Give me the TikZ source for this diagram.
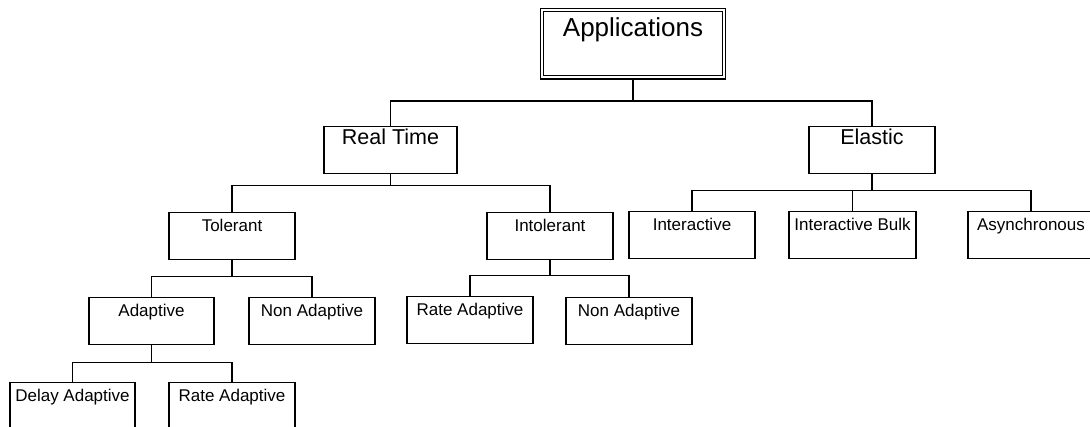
\documentclass[tikz,border=0pt]{standalone}
\usepackage{fontspec}
\setmainfont{Liberation Sans}
\begin{document}
\begin{tikzpicture}[x=1pt,y=-1pt,
  box/.style={draw, line width=1.5pt, inner sep=0pt, anchor=north,
    minimum width=126pt, text height=18.5pt, text depth=28.5pt,
    font=\fontsize{17}{20}\selectfont},
  midbox/.style={box, text height=18pt, text depth=29pt,
    font=\fontsize{21.5}{25}\selectfont},
  appbox/.style={draw, line width=1.2pt, double, double distance=2pt,
    inner sep=0pt, anchor=north, minimum width=181.6pt,
    text height=26.8pt, text depth=40.8pt,
    font=\fontsize{26}{30}\selectfont},
  link/.style={line width=1.5pt},
]
\useasboundingbox (0,0) rectangle (1090,427);
\clip (0,0) rectangle (1090,427);

% top level
\node[appbox] (app) at (633,9.2) {Applications};

% second level
\node[midbox, minimum width=133pt] (rt) at (390.5,126) {Real Time};
\node[midbox] (el) at (872,126) {Elastic};

% third level
\node[box] (tol) at (232,212) {Tolerant};
\node[box] (intol) at (550,212) {Intolerant};
\node[box] (inter) at (692,211) {Interactive};
\node[box, minimum width=127pt] (bulk) at (852.5,211) {Interactive Bulk};
\node[box] (async) at (1031,211) {Asynchronous};

% fourth level
\node[box, minimum width=125pt] (adap) at (151.5,297) {Adaptive};
\node[box] (nadapA) at (312,297) {Non Adaptive};
\node[box] (rateA) at (470,296) {Rate Adaptive};
\node[box] (nadapB) at (629,297) {Non Adaptive};

% fifth level
\node[box, minimum width=125pt] (delay) at (72.5,382) {Delay Adaptive};
\node[box] (rateB) at (232,382) {Rate Adaptive};

% connectors
\draw[link, shorten <=2.2pt] (app.south) -- ++(0,23.2) coordinate (j0);
\draw[link] (j0) -| (rt.north);
\draw[link] (j0) -| (el.north);

\draw[link] (rt.south) -- ++(0,11) coordinate (j1);
\draw[link] (j1) -| (tol.north);
\draw[link] (j1) -| (intol.north);

\draw[link] (el.south) -- ++(0,16) coordinate (j2);
\draw[link] (j2) -| (inter.north);
\draw[link] (j2) -| (bulk.north);
\draw[link] (j2) -| (async.north);

\draw[link] (tol.south) -- ++(0,16) coordinate (j3);
\draw[link] (j3) -| (adap.north);
\draw[link] (j3) -| (nadapA.north);

\draw[link] (intol.south) -- ++(0,15) coordinate (j4);
\draw[link] (j4) -| (rateA.north);
\draw[link] (j4) -| (nadapB.north);

\draw[link] (adap.south) -- ++(0,17) coordinate (j5);
\draw[link] (j5) -| (delay.north);
\draw[link] (j5) -| (rateB.north);
\end{tikzpicture}
\end{document}
